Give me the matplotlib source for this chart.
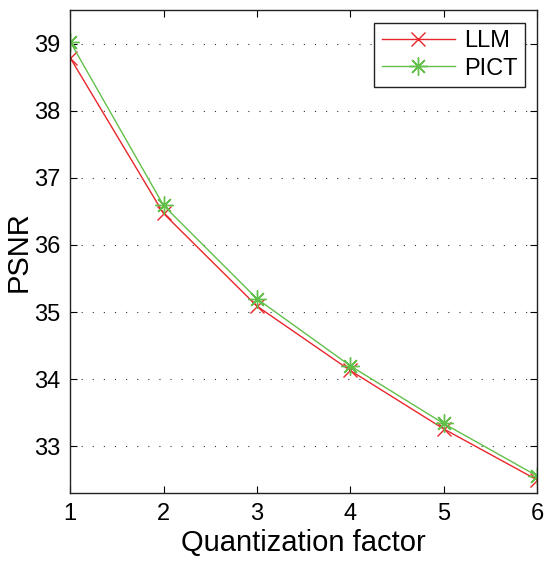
import matplotlib
matplotlib.use('Agg')
import matplotlib.pyplot as plt

plt.rcParams['font.family'] = ['Liberation Sans', 'DejaVu Sans']

qfactor = [1, 2, 3, 4, 5, 6]
psnr_llm = [38.79, 36.47, 35.09, 34.13, 33.26, 32.50]
psnr_pict = [39.03, 36.59, 35.20, 34.20, 33.34, 32.56]

red = '#e8262b'
green = '#62c04a'

fig = plt.figure(figsize=(5.44, 5.65), dpi=100)
ax = fig.add_axes([0.129, 0.127, 0.858, 0.855])

ax.plot(qfactor, psnr_llm, color=red, lw=1.0, marker='x', ms=10, mew=1.0, label='LLM')
ax.plot(qfactor, psnr_pict, color=green, lw=1.0, marker=(8, 2, 0), ms=13, mew=1.0, label='PICT')

ax.set_xlim(1, 6)
ax.set_ylim(32.3, 39.5)
ax.set_xticks(qfactor)
ax.set_yticks([33, 34, 35, 36, 37, 38, 39])
ax.yaxis.grid(True, linestyle=(0, (1, 9)), color='#333333', lw=0.8)
ax.tick_params(direction='in', top=True, right=True, labelsize=17, length=5, width=0.8, pad=7)
for s in ax.spines.values():
    s.set_linewidth(1.0)
    s.set_color('#222222')

ax.set_xlabel('Quantization factor', fontsize=21, labelpad=3)
ax.set_ylabel('PSNR', fontsize=21, labelpad=1)

leg = ax.legend(loc='upper right', fontsize=17, fancybox=False, framealpha=1,
                edgecolor='#222222', handlelength=3.1, borderpad=0.3,
                labelspacing=0.25, handletextpad=0.4, borderaxespad=0,
                bbox_to_anchor=(0.974, 0.974))
leg.get_frame().set_linewidth(1.0)

fig.savefig('out.png', dpi=100)
